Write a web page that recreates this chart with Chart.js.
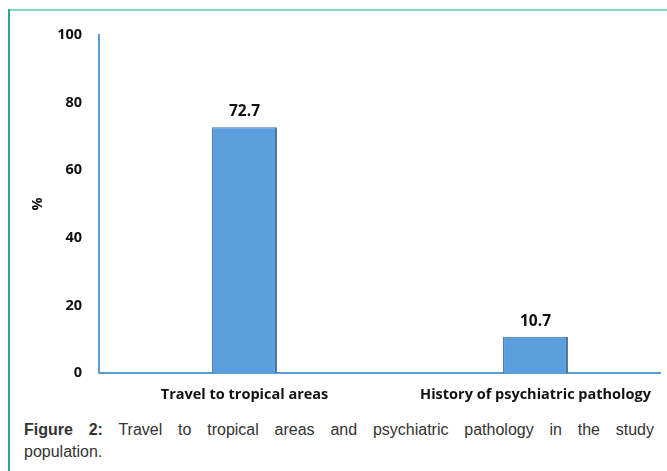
<!DOCTYPE html>
<html>
<head>
<meta charset="utf-8">
<script src="https://cdn.jsdelivr.net/npm/chart.js@4"></script>
<style>
  html, body { margin: 0; padding: 0; background: #fff; overflow: hidden; }
  body { width: 667px; height: 471px; position: relative; }
  #frameTop { position: absolute; left: 8px; top: 9px; width: 659px; height: 2px; background: #7fd8c7; }
  #frameLeft { position: absolute; left: 8px; top: 9px; width: 2px; height: 462px; background: #2aa88f; }
  #clip { position: absolute; left: 0; top: 0; width: 661px; height: 410px; overflow: hidden; }
  #wrap { position: absolute; left: 0; top: 0; width: 681px; height: 410px; }
  #caption {
    position: absolute; left: 24px; top: 419px; width: 630px;
    font-family: "Liberation Sans", Arial, sans-serif; font-size: 16px;
    line-height: 22px; color: #333;
  }
  #caption .l1 { display: block; text-align: justify; text-align-last: justify; }
</style>
</head>
<body>
<div id="frameTop"></div>
<div id="frameLeft"></div>
<div id="clip"><div id="wrap"><canvas id="chart"></canvas></div></div>
<div id="caption"><span class="l1"><b>Figure 2:</b> Travel to tropical areas and psychiatric pathology in the study</span>population.</div>
<script>
const categories = ['Travel to tropical areas', 'History of psychiatric pathology']
const percentages = [72.7, 10.7]
const yTicks = [0, 20, 40, 60, 80, 100]

const labelFont = { family: '"Open Sans", Lato, sans-serif', size: 14.5, weight: 'bold' }

const valueLabels = {
    id: 'valueLabels',
    afterDatasetsDraw(chart) {
        const ctx = chart.ctx
        const meta = chart.getDatasetMeta(0)
        ctx.save()
        ctx.font = 'bold 15.5px "Open Sans", Lato, sans-serif'
        ctx.fillStyle = '#111'
        ctx.textAlign = 'center'
        ctx.textBaseline = 'bottom'
        meta.data.forEach((bar, i) => {
            ctx.fillText(percentages[i].toFixed(1), bar.x, bar.y - 8)
        })
        ctx.restore()
    }
}

new Chart(document.getElementById('chart'), {
    type: 'bar',
    data: {
        labels: categories,
        datasets: [{
            data: percentages,
            backgroundColor: '#5c9fdf',
            borderColor: '#41719c',
            borderWidth: { top: 1, left: 1, right: 2, bottom: 0 },
            barPercentage: 1,
            categoryPercentage: 0.223
        }]
    },
    options: {
        responsive: true,
        maintainAspectRatio: false,
        animation: false,
        layout: { padding: { top: 35, right: 0, left: 0, bottom: 0 } },
        plugins: { legend: { display: false }, tooltip: { enabled: false } },
        scales: {
            x: {
                grid: { display: false, drawTicks: false },
                border: { display: true, color: '#5b9bd5', width: 2 },
                ticks: { color: '#111', font: labelFont, padding: 13, maxRotation: 0 },
                afterFit(scale) { scale.height = 37 }
            },
            y: {
                min: 0,
                max: 100,
                afterBuildTicks(scale) { scale.ticks = yTicks.map(v => ({ value: v })) },
                grid: { display: false, drawTicks: false },
                border: { display: true, color: '#5b9bd5', width: 2 },
                ticks: { color: '#111', font: labelFont, padding: 17 },
                title: {
                    display: true,
                    text: '%',
                    color: '#111',
                    font: labelFont,
                    padding: { top: 29, bottom: 0 }
                },
                afterFit(scale) { scale.width = 99 }
            }
        }
    },
    plugins: [valueLabels]
})
</script>
</body>
</html>
